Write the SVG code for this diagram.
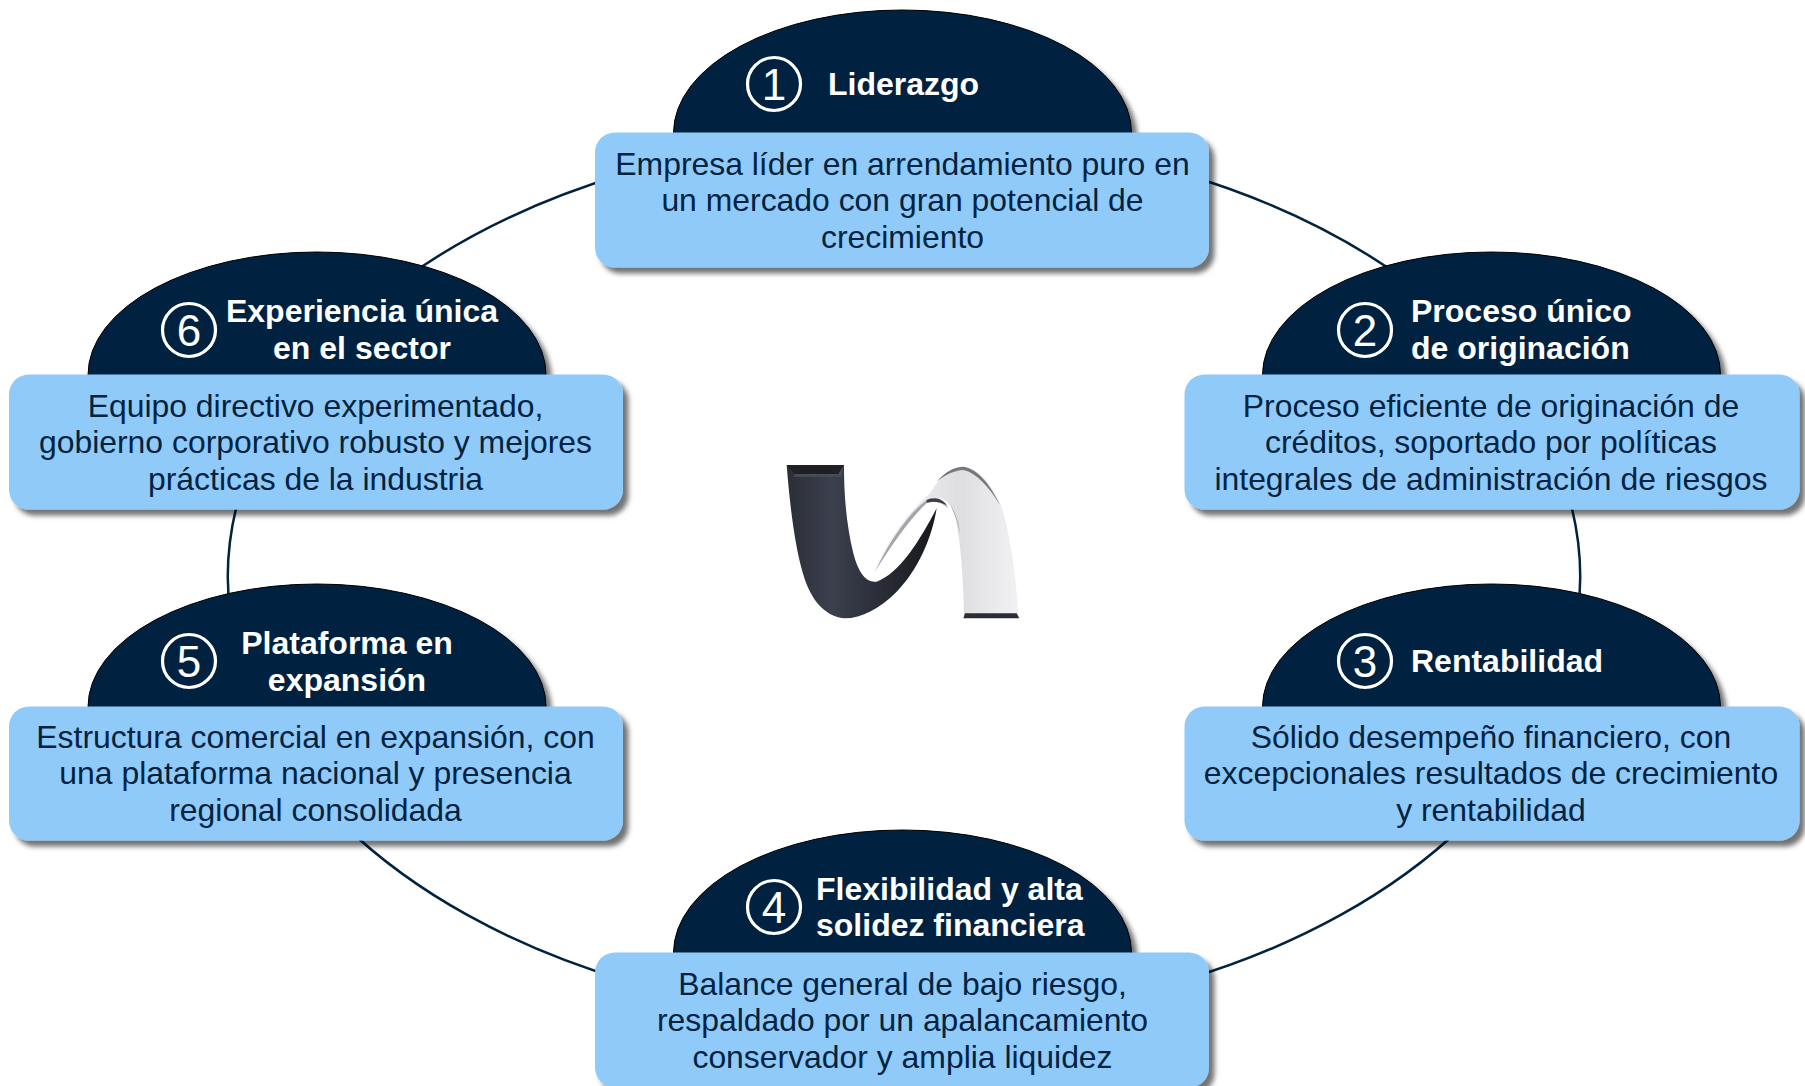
<svg xmlns="http://www.w3.org/2000/svg" width="1805" height="1086" viewBox="0 0 1805 1086">
<style>
text{font-family:"Liberation Sans",Arial,sans-serif}
.dome{fill:#02233f;stroke:#000;stroke-width:1;filter:url(#sh)}
.box{fill:#90caf9;filter:url(#sh)}
.body{font-size:31.9px;fill:#02233f;text-anchor:middle}
.title{font-size:32px;font-weight:bold;fill:#fff}
.mid{text-anchor:middle}
.ring{fill:none;stroke:#fff;stroke-width:3.2}
.num{font-size:44px;fill:#fff;text-anchor:middle}
.conn{fill:none;stroke:#02233f;stroke-width:2.5}
</style>
<defs>
<filter id="sh" x="-10%" y="-10%" width="120%" height="125%"><feDropShadow dx="5.5" dy="6" stdDeviation="2.8" flood-color="#000" flood-opacity=".55"/></filter>
<filter id="soft" x="-5%" y="-5%" width="110%" height="110%"><feGaussianBlur stdDeviation="1.5"/></filter>
<linearGradient id="dk" x1="0" y1="0" x2="1" y2="0"><stop offset="0" stop-color="#2b2e36"/><stop offset=".3" stop-color="#3b404e"/><stop offset="1" stop-color="#17181c"/></linearGradient>
<linearGradient id="lt" x1="0" y1="0" x2="1" y2="0"><stop offset="0" stop-color="#fafafb"/><stop offset=".6" stop-color="#dedee1"/><stop offset="1" stop-color="#f2f2f4"/></linearGradient>
</defs>
<g id="connectors">
<path class="conn" d="M624 174A676 443 0 0 0 404 279"/>
<path class="conn" d="M1184 174A676 443 0 0 1 1404 279"/>
<path class="conn" d="M1566 487A676 443 0 0 1 1566 667"/>
<path class="conn" d="M1464 825A676 443 0 0 1 1184 980"/>
<path class="conn" d="M624 980A676 443 0 0 1 344 825"/>
<path class="conn" d="M242 667A676 443 0 0 1 242 487"/>
</g>
<g id="node1">
<path class="dome" d="M673.500 135V133A229 123 0 0 1 1131.500 133V135Z"/>
<rect class="box" x="595" y="132.500" width="614" height="135" rx="20"/>
<circle class="ring" cx="774" cy="84" r="26.5"/><text class="num" x="774" y="100">1</text>
<text class="title" x="828" y="95">Liderazgo</text>
<text class="body" x="902.5" y="175">Empresa líder en arrendamiento puro en</text>
<text class="body" x="902.5" y="211">un mercado con gran potencial de</text>
<text class="body" x="902.5" y="248">crecimiento</text>
</g>
<g id="node2">
<path class="dome" d="M1262.500 377V375A229 123 0 0 1 1720.500 375V377Z"/>
<rect class="box" x="1184.500" y="374.500" width="615" height="135" rx="20"/>
<circle class="ring" cx="1365" cy="330" r="26.5"/><text class="num" x="1365" y="346">2</text>
<text class="title" x="1411" y="322">Proceso único</text>
<text class="title" x="1411" y="359">de originación</text>
<text class="body" x="1491" y="416.500">Proceso eficiente de originación de</text>
<text class="body" x="1491" y="453">créditos, soportado por políticas</text>
<text class="body" x="1491" y="489.500">integrales de administración de riesgos</text>
</g>
<g id="node3">
<path class="dome" d="M1262.500 709V707A229 123 0 0 1 1720.500 707V709Z"/>
<rect class="box" x="1184.500" y="706.500" width="615" height="134" rx="20"/>
<circle class="ring" cx="1365" cy="661" r="26.5"/><text class="num" x="1365" y="677">3</text>
<text class="title" x="1411" y="672">Rentabilidad</text>
<text class="body" x="1491" y="748">Sólido desempeño financiero, con</text>
<text class="body" x="1491" y="784">excepcionales resultados de crecimiento</text>
<text class="body" x="1491" y="821">y rentabilidad</text>
</g>
<g id="node4">
<path class="dome" d="M673.500 955V953A229 123 0 0 1 1131.500 953V955Z"/>
<rect class="box" x="595" y="952.500" width="614" height="135" rx="20"/>
<circle class="ring" cx="774" cy="907" r="26.5"/><text class="num" x="774" y="923">4</text>
<text class="title" x="816" y="900">Flexibilidad y alta</text>
<text class="title" x="816" y="936">solidez financiera</text>
<text class="body" x="902.5" y="994.500">Balance general de bajo riesgo,</text>
<text class="body" x="902.5" y="1031">respaldado por un apalancamiento</text>
<text class="body" x="902.5" y="1067.500">conservador y amplia liquidez</text>
</g>
<g id="node5">
<path class="dome" d="M88 709V707A229 123 0 0 1 546 707V709Z"/>
<rect class="box" x="9" y="706.500" width="614" height="134" rx="20"/>
<circle class="ring" cx="189" cy="661" r="26.5"/><text class="num" x="189" y="677">5</text>
<text class="title mid" x="347" y="654">Plataforma en</text>
<text class="title mid" x="347" y="691">expansión</text>
<text class="body" x="315.5" y="748">Estructura comercial en expansión, con</text>
<text class="body" x="315.5" y="784">una plataforma nacional y presencia</text>
<text class="body" x="315.5" y="821">regional consolidada</text>
</g>
<g id="node6">
<path class="dome" d="M88 377V375A229 123 0 0 1 546 375V377Z"/>
<rect class="box" x="9" y="374.500" width="614" height="135" rx="20"/>
<circle class="ring" cx="189" cy="330" r="26.5"/><text class="num" x="189" y="346">6</text>
<text class="title mid" x="362" y="322">Experiencia única</text>
<text class="title mid" x="362" y="359">en el sector</text>
<text class="body" x="315.5" y="416.500">Equipo directivo experimentado,</text>
<text class="body" x="315.5" y="453">gobierno corporativo robusto y mejores</text>
<text class="body" x="315.5" y="489.500">prácticas de la industria</text>
</g>
<g id="logo" transform="translate(760 450) scale(.3333)">
<path d="M340 370C380 270 440 190 510 130C540 80 575 50 610 50C660 55 700 110 725 170C755 270 770 400 775 495L612 495C610 400 605 290 585 195C570 150 540 135 510 150C450 190 390 290 340 370Z" fill="url(#lt)"/>
<path d="M530 95C555 65 585 50 610 50C650 55 690 100 720 165C690 115 650 68 610 60C585 60 555 75 530 95Z" fill="#77787e" filter="url(#soft)"/>
<path d="M345 365C385 280 440 195 500 150C520 140 550 140 565 175C545 155 520 152 500 160C450 205 395 285 345 365Z" fill="#a5a6ab" filter="url(#soft)"/>
<path d="M500 150C520 142 545 145 560 165C540 155 520 152 500 158Z" fill="#3c3d44"/>
<path d="M570 160C585 190 595 210 600 250L590 210Z" fill="#8e8f94"/>
<path d="M615 490L770 490L778 505L610 505Z" fill="#2a2c36"/>
<path d="M80 45L252 45C252 130 258 220 280 310C295 370 320 400 350 395C420 370 480 270 530 175C515 270 470 365 410 425C360 475 305 505 255 505C200 500 160 460 135 390C105 300 90 170 80 45Z" fill="url(#dk)"/>
<path d="M80 45H252L235 72H105Z" fill="#1f2025"/>
<path d="M105 72H235L252 45L244 80H100Z" fill="#4a4c55"/>
</g>
</svg>
